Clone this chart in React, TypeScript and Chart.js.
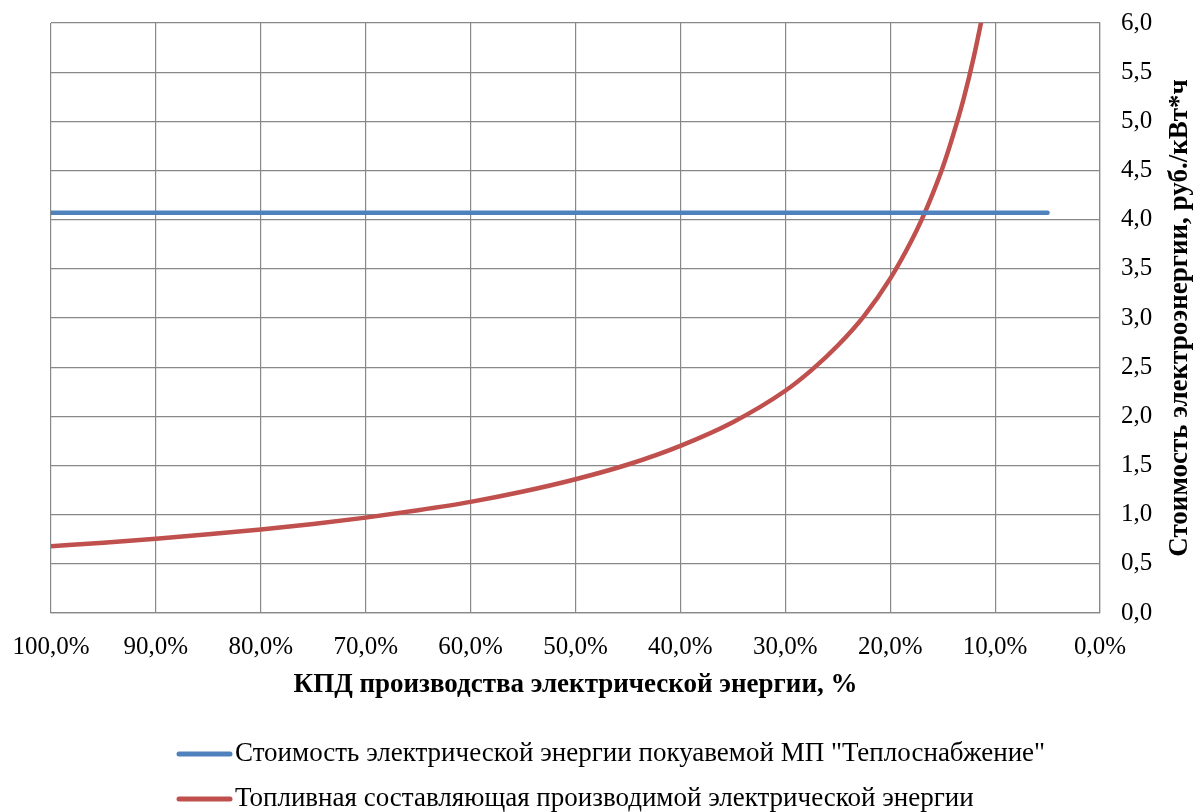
import { useEffect, useRef } from "react";
import { Chart, registerables } from "chart.js";

Chart.register(...registerables);

const FONT = '"Liberation Serif", "Times New Roman", serif';
const BLUE = "#4F81BD";
const RED = "#C0504D";
const GRID = "#888888";

// КПД производства электрической энергии, %
const efficiencyPct = [100, 95, 90, 85, 80, 75, 70, 65, 60, 55, 50, 45, 40, 35, 30, 27.5, 25, 22.5, 20, 18, 17, 16, 15, 14, 13, 12, 11];
// Топливная составляющая, руб./кВт*ч
const fuelCost = [0.68, 0.715, 0.755, 0.8, 0.85, 0.905, 0.97, 1.045, 1.13, 1.235, 1.36, 1.51, 1.7, 1.94, 2.26, 2.47, 2.72, 3.02, 3.4, 3.78, 4.0, 4.25, 4.53, 4.86, 5.23, 5.67, 6.18];

// Стоимость покупаемой электроэнергии
const purchaseX = [100, 5];
const purchaseCost = [4.07, 4.07];

const legendLabels = [
  'Стоимость электрической энергии покуавемой МП "Теплоснабжение"',
  "Топливная составляющая производимой электрической энергии",
];
const xTitle = "КПД производства электрической энергии, %";
const yTitle = "Стоимость электроэнергии, руб./кВт*ч";

const fmt = (v: number, d: number) => v.toFixed(d).replace(".", ",");

const decorPlugin = {
  id: "decor",
  afterDraw(chart: any) {
    const ctx = chart.ctx as CanvasRenderingContext2D;
    const area = chart.chartArea;
    ctx.save();
    ctx.fillStyle = "#000";
    // x title
    ctx.font = `bold 27px ${FONT}`;
    ctx.textAlign = "center";
    ctx.textBaseline = "middle";
    ctx.fillText(xTitle, (area.left + area.right) / 2, 685);
    // y title
    ctx.save();
    ctx.translate(1180, (area.top + area.bottom) / 2);
    ctx.rotate(-Math.PI / 2);
    ctx.fillText(yTitle, 0, 0);
    ctx.restore();
    // legend
    const colors = [BLUE, RED];
    const rows = [754, 799];
    ctx.font = `27px ${FONT}`;
    ctx.textAlign = "left";
    legendLabels.forEach((lab, i) => {
      ctx.strokeStyle = colors[i];
      ctx.lineWidth = 5;
      ctx.lineCap = "round";
      ctx.beginPath();
      ctx.moveTo(179, rows[i]);
      ctx.lineTo(230, rows[i]);
      ctx.stroke();
      ctx.fillText(lab, 235, rows[i]);
    });
    ctx.restore();
  },
};

export default function App() {
  const ref = useRef<HTMLCanvasElement>(null);
  useEffect(() => {
    document.body.style.margin = "0";
    const chart = new Chart(ref.current!, {
      type: "line",
      data: {
        datasets: [
          {
            label: legendLabels[0],
            data: purchaseX.map((x, i) => ({ x, y: purchaseCost[i] })),
            borderColor: BLUE,
            borderWidth: 4.5,
            pointRadius: 0,
            borderCapStyle: "round",
          },
          {
            label: legendLabels[1],
            data: efficiencyPct.map((x, i) => ({ x, y: fuelCost[i] })),
            borderColor: RED,
            borderWidth: 4.5,
            pointRadius: 0,
            cubicInterpolationMode: "monotone",
          },
        ],
      },
      options: {
        responsive: false,
        animation: false,
        layout: { padding: { left: 51, top: 23, right: 0, bottom: 0 } },
        plugins: { legend: { display: false }, tooltip: { enabled: false } },
        scales: {
          x: {
            type: "linear",
            reverse: true,
            min: 0,
            max: 100,
            ticks: {
              stepSize: 10,
              autoSkip: false,
              maxRotation: 0,
              padding: 19,
              color: "#000",
              font: { family: FONT, size: 25 },
              callback: (v: any) => fmt(Number(v), 1) + "%",
            },
            grid: { color: GRID, drawTicks: false, lineWidth: 1.2 },
            border: { color: GRID, width: 1.2 },
            afterFit: (s: any) => {
              s.height = 199;
              s.paddingLeft = 0;
              s.paddingRight = 0;
            },
          },
          y: {
            position: "right",
            min: 0,
            max: 6,
            ticks: {
              stepSize: 0.5,
              padding: 21,
              color: "#000",
              font: { family: FONT, size: 25 },
              callback: (v: any) => fmt(Number(v), 1),
            },
            grid: { color: GRID, drawTicks: false, lineWidth: 1.2 },
            border: { color: GRID, width: 1.2 },
            afterFit: (s: any) => {
              s.width = 94;
              s.paddingTop = 0;
              s.paddingBottom = 0;
            },
          },
        },
      } as any,
      plugins: [decorPlugin],
    });
    return () => chart.destroy();
  }, []);
  return <canvas ref={ref} width={1194} height={812} style={{ display: "block" }} />;
}
